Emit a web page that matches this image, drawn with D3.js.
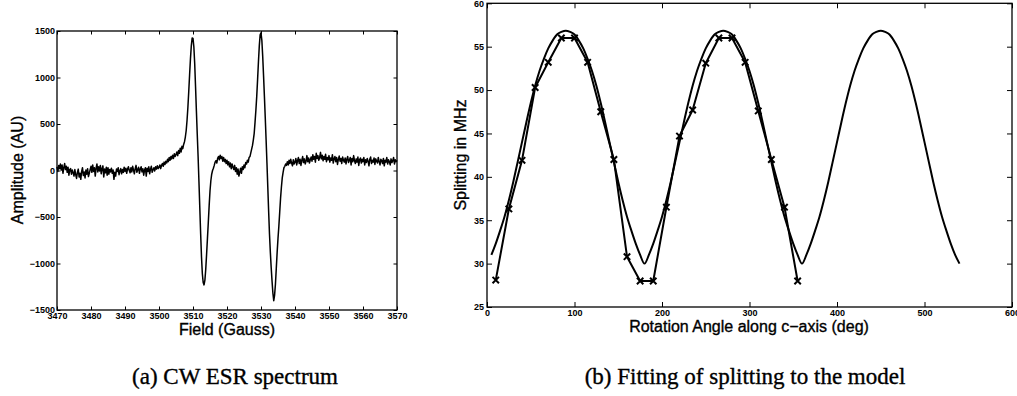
<!DOCTYPE html>
<html>
<head>
<meta charset="utf-8">
<script src="https://cdn.jsdelivr.net/npm/d3@7"></script>
<style>
  body { margin: 0; background: #fff; }
  svg { display: block; }
</style>
</head>
<body>
<div id="chart"></div>
<script>
// (a) CW ESR spectrum, sampled every 0.25 G starting at 3470 G
const fieldStart = 3470
const fieldStep = 0.25
const amplitude = [
  40, -10, 55, 20, 70, 5, 60, -30, 30, 75, 10, 45, -20, 35, -50, 10, 20, -40, 5, -25,
  -60, 10, -45, -85, -20, 15, -70, -30, -95, -10, 30, -55, -15, -80, 5, -40, 20, -65, -30, 10,
  45, -20, 60, -10, 30, -60, 25, 70, -15, 40, -5, 55, -35, 20, 50, -70, 15, -25, 35, -50,
  30, -40, 10, -15, 25, -30, 5, -95, -20, -60, 15, -10, 30, -45, -5, 20, -35, 10, -20, 35,
  -10, 25, -30, 15, 40, 0, -25, 30, -15, 45, 5, -35, 20, 55, -20, 10, 35, -30, 15, 40,
  -15, 20, -50, 5, 30, -60, 25, -10, 40, -35, 15, 45, -20, 10, 30, -5, 40, 15, 50, 20,
  35, 60, 20, 55, 75, 45, 90, 65, 100, 80, 120, 95, 140, 110, 150, 125, 165, 130, 180, 150,
  170, 200, 160, 215, 185, 240, 200, 260, 235, 280, 310, 360, 430, 540, 680, 850, 1030, 1200, 1340, 1425,
  1420, 1330, 1150, 900, 640, 390, 150, -120, -400, -680, -930, -1110, -1205, -1230, -1180, -1060, -900, -730, -560, -380,
  -220, -110, -40, 0, 25, 55, 90, 105, 80, 130, 150, 115, 165, 130, 150, 100, 140, 95, 120, 75,
  110, 60, 95, 40, 80, 20, 70, 35, 10, 55, -10, 30, -40, 15, -60, -20, 25, -30, 40, 10,
  60, 30, 85, 70, 110, 90, 140, 150, 190, 230, 270, 330, 400, 520, 650, 800, 980, 1170, 1340, 1460,
  1480, 1400, 1230, 1020, 800, 570, 330, 80, -180, -440, -685, -880, -1045, -1190, -1320, -1400, -1340, -1220, -1050, -880,
  -730, -600, -450, -300, -180, -80, -20, 30, 45, 70, 55, 95, 60, 110, 75, 120, 80, 50, 115, 70,
  90, 130, 60, 105, 140, 75, 120, 55, 110, 150, 85, 125, 70, 100, 160, 95, 135, 80, 115, 145,
  100, 170, 120, 150, 90, 185, 130, 160, 110, 140, 195, 125, 165, 105, 150, 120, 175, 95, 140, 115,
  160, 90, 135, 110, 170, 80, 125, 150, 95, 140, 65, 120, 155, 100, 130, 75, 145, 110, 90, 135,
  70, 120, 150, 85, 110, 140, 60, 130, 95, 160, 105, 75, 125, 90, 145, 55, 115, 135, 80, 120,
  95, 140, 60, 115, 85, 130, 100, 50, 120, 145, 75, 110, 90, 135, 65, 125, 100, 80, 140, 95,
  60, 120, 105, 75, 130, 50, 110, 90, 140, 70, 115, 95, 60, 125, 85, 105, 140, 70, 115, 95,
  110
]
const fieldTicks = [3470, 3480, 3490, 3500, 3510, 3520, 3530, 3540, 3550, 3560, 3570]
const ampTicks = [-1500, -1000, -500, 0, 500, 1000, 1500]

// (b) measured splitting (x markers) and model curve
const angles = [10, 25, 40, 55, 70, 85, 100, 115, 130, 145, 160, 175, 190, 205, 220, 235, 250, 265, 280, 295, 310, 325, 340, 355]
const splitting = [28.1, 36.3, 41.9, 50.3, 53.2, 56.0, 56.0, 53.2, 47.5, 42.0, 30.8, 28.0, 28.0, 36.5, 44.7, 47.7, 53.1, 56.0, 56.0, 53.2, 47.6, 42.0, 36.5, 28.0]
const modelAngles = [
  5, 10, 15, 20, 25, 30, 35, 40, 45, 50, 55, 60, 65, 70, 75, 80, 85, 90,
  95, 100, 105, 110, 115, 120, 125, 130, 135, 140, 145, 150, 155, 160, 165, 170, 175, 180,
  185, 190, 195, 200, 205, 210, 215, 220, 225, 230, 235, 240, 245, 250, 255, 260, 265, 270,
  275, 280, 285, 290, 295, 300, 305, 310, 315, 320, 325, 330, 335, 340, 345, 350, 355, 360,
  365, 370, 375, 380, 385, 390, 395, 400, 405, 410, 415, 420, 425, 430, 435, 440, 445, 450,
  455, 460, 465, 470, 475, 480, 485, 490, 495, 500, 505, 510, 515, 520, 525, 530, 535, 540
]
const modelSplitting = [
  31.0, 32.3, 33.8, 35.4, 37.3, 39.4, 41.7, 44.0, 46.3, 48.5, 50.5, 52.2, 53.6, 54.8, 55.7, 56.4, 56.7, 56.85,
  56.7, 56.4, 55.7, 54.8, 53.6, 52.2, 50.5, 48.5, 46.3, 44.0, 41.7, 39.4, 37.3, 35.4, 33.8, 32.3, 31.0, 30.0,
  31.0, 32.3, 33.8, 35.4, 37.3, 39.4, 41.7, 44.0, 46.3, 48.5, 50.5, 52.2, 53.6, 54.8, 55.7, 56.4, 56.7, 56.85,
  56.7, 56.4, 55.7, 54.8, 53.6, 52.2, 50.5, 48.5, 46.3, 44.0, 41.7, 39.4, 37.3, 35.4, 33.8, 32.3, 31.0, 30.0,
  31.0, 32.3, 33.8, 35.4, 37.3, 39.4, 41.7, 44.0, 46.3, 48.5, 50.5, 52.2, 53.6, 54.8, 55.7, 56.4, 56.7, 56.85,
  56.7, 56.4, 55.7, 54.8, 53.6, 52.2, 50.5, 48.5, 46.3, 44.0, 41.7, 39.4, 37.3, 35.4, 33.8, 32.3, 31.0, 30.0
]
const angleTicks = [0, 100, 200, 300, 400, 500, 600]
const splitTicks = [25, 30, 35, 40, 45, 50, 55, 60]

const W = 1017, H = 396
const sansFont = "'Liberation Sans', Arial, Helvetica, sans-serif"
const serifFont = "'Liberation Serif', 'Times New Roman', serif"
const fmt = d3.format("d")

const svg = d3.select("#chart").append("svg")
  .attr("width", W)
  .attr("height", H)
  .style("background", "#fff")

// draws the boxed MATLAB-style axes with inward ticks on all four sides
function drawFrame(x, y, xTicks, yTicks, tick, padX, padY) {
  const [x0, x1] = x.range()
  const [y0, y1] = y.range()
  const g = svg.append("g")

  const styleAxis = sel => {
    sel.select(".domain").remove()
    sel.selectAll("line").attr("stroke", "#000").attr("stroke-width", 1)
    sel.selectAll("text")
      .attr("font-family", sansFont)
      .attr("font-size", 9)
      .attr("font-weight", "bold")
      .attr("fill", "#000")
  }

  g.append("g").attr("transform", `translate(0,${y0})`)
    .call(d3.axisBottom(x).tickValues(xTicks).tickFormat(fmt).tickSizeInner(-tick).tickSizeOuter(0).tickPadding(padX))
    .call(styleAxis)
  g.append("g").attr("transform", `translate(0,${y1})`)
    .call(d3.axisTop(x).tickValues(xTicks).tickFormat("").tickSizeInner(-tick).tickSizeOuter(0))
    .call(styleAxis)
  g.append("g").attr("transform", `translate(${x0},0)`)
    .call(d3.axisLeft(y).tickValues(yTicks).tickFormat(fmt).tickSizeInner(-tick).tickSizeOuter(0).tickPadding(padY))
    .call(styleAxis)
  g.append("g").attr("transform", `translate(${x1},0)`)
    .call(d3.axisRight(y).tickValues(yTicks).tickFormat("").tickSizeInner(-tick).tickSizeOuter(0))
    .call(styleAxis)

  g.append("rect")
    .attr("x", x0).attr("y", y1)
    .attr("width", x1 - x0).attr("height", y0 - y1)
    .attr("fill", "none")
    .attr("stroke", "#000")
    .attr("stroke-width", 1.3)
  return g
}

function label(text, x, y, size, family, rotate) {
  const t = svg.append("text")
    .attr("text-anchor", "middle")
    .attr("font-family", family)
    .attr("font-size", size)
    .attr("fill", "#000")
    .attr("stroke", "#000")
    .attr("stroke-width", 0.35)
    .text(text)
  if (rotate) t.attr("transform", `translate(${x},${y}) rotate(-90)`)
  else t.attr("x", x).attr("y", y)
  return t
}

// ---------- panel (a) ----------
const xA = d3.scaleLinear().domain([3470, 3570]).range([57, 397])
const yA = d3.scaleLinear().domain([-1500, 1500]).range([310, 31])

const spectrum = amplitude.map((a, i) => ({ f: fieldStart + i * fieldStep, a: a }))

svg.append("path")
  .datum(spectrum)
  .attr("fill", "none")
  .attr("stroke", "#000")
  .attr("stroke-width", 1.5)
  .attr("stroke-linejoin", "round")
  .attr("d", d3.line().x(d => xA(d.f)).y(d => yA(d.a)))

drawFrame(xA, yA, fieldTicks, ampTicks, 3.5, 3, 2)

label("Amplitude (AU)", 22.5, 170, 16, sansFont, true)
label("Field (Gauss)", 227, 335, 16, sansFont, false)
label("(a) CW ESR spectrum", 235, 384, 23, serifFont, false)

// ---------- panel (b) ----------
const xB = d3.scaleLinear().domain([0, 600]).range([487, 1012])
const yB = d3.scaleLinear().domain([25, 60]).range([307, 3.3])

const model = modelAngles.map((a, i) => ({ a: a, v: modelSplitting[i] }))
const measured = angles.map((a, i) => ({ a: a, v: splitting[i] }))

svg.append("path")
  .datum(model)
  .attr("fill", "none")
  .attr("stroke", "#000")
  .attr("stroke-width", 2)
  .attr("d", d3.line().curve(d3.curveMonotoneX).x(d => xB(d.a)).y(d => yB(d.v)))

svg.append("path")
  .datum(measured)
  .attr("fill", "none")
  .attr("stroke", "#000")
  .attr("stroke-width", 2)
  .attr("stroke-linejoin", "round")
  .attr("d", d3.line().x(d => xB(d.a)).y(d => yB(d.v)))

const m = 3.2
svg.append("g").selectAll("path")
  .data(measured)
  .enter()
  .append("path")
  .attr("fill", "none")
  .attr("stroke", "#000")
  .attr("stroke-width", 2)
  .attr("d", d => {
    const cx = xB(d.a), cy = yB(d.v)
    return `M${cx - m},${cy - m}L${cx + m},${cy + m}M${cx - m},${cy + m}L${cx + m},${cy - m}`
  })

drawFrame(xB, yB, angleTicks, splitTicks, 5, 3, 3)

label("Splitting in MHz", 466, 155, 16, sansFont, true)
label("Rotation Angle along c\u2212axis (deg)", 749, 332, 16, sansFont, false)
label("(b) Fitting of splitting to the model", 745, 384, 23, serifFont, false)
</script>
</body>
</html>
